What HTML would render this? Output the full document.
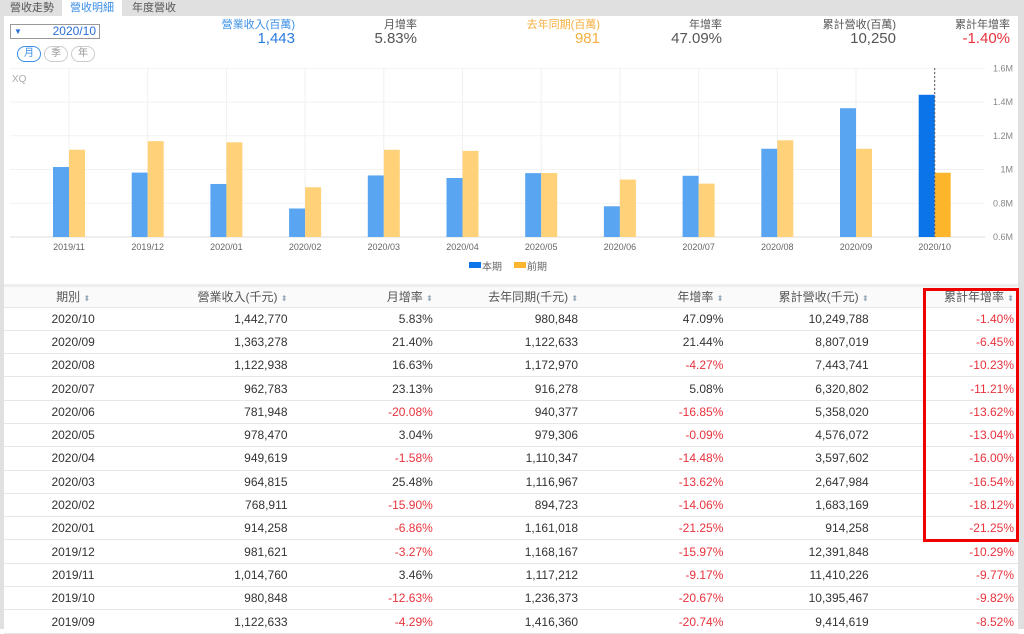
<!DOCTYPE html>
<html><head><meta charset="utf-8"><style>
*{margin:0;padding:0;box-sizing:border-box}
body{width:1024px;height:629px;overflow:hidden;background:#fff;font-family:"Liberation Sans","Noto Sans CJK TC",sans-serif;position:relative;color:#333}
.abs{position:absolute}
.tabbar{left:0;top:0;width:1024px;height:16px;background:#e0e0e0}
.tab{top:0;height:16px;font-size:11px;line-height:16px;color:#555;text-align:center}
.lbl{top:16px;font-size:11px;color:#555;text-align:right}
.val{top:30px;font-size:15px;color:#555;text-align:right}
.pill{top:46px;width:24px;height:16px;border:1px solid #ccc;border-radius:8px;font-size:10px;line-height:14px;text-align:center;color:#999}
table{position:absolute;left:4px;top:287px;width:1014px;border-collapse:collapse;font-size:12px}
td,th{height:23.3px;text-align:right;padding-right:4px;border-bottom:1px solid #e6e6e6;font-weight:normal}
th{color:#555;background:#fafafa;height:20px}
td:first-child,th:first-child{text-align:center}
.r{color:#e8323c}
.ar{color:#9ab;font-size:8px}
</style></head><body>
<div class="abs tabbar"></div>
<div class="abs tab" style="left:4px;width:56px">營收走勢</div>
<div class="abs tab" style="left:62px;width:60px;background:#fff;color:#3a8ee6">營收明細</div>
<div class="abs tab" style="left:124px;width:60px">年度營收</div>
<div class="abs" style="left:0;top:16px;width:4px;height:613px;background:#e0e0e0"></div>
<div class="abs" style="left:1018px;top:16px;width:6px;height:613px;background:#e0e0e0"></div>
<div class="abs" style="left:10px;top:24px;width:90px;height:15px;border:1px solid #999;font-size:12px;line-height:13px;color:#2a6fd6;text-align:right;padding-right:3px"><span style="position:absolute;left:3px;font-size:8px">▼</span>2020/10</div>
<div class="abs pill" style="left:17px;border-color:#3a8ee6;color:#3a8ee6">月</div>
<div class="abs pill" style="left:44px">季</div>
<div class="abs pill" style="left:71px">年</div>
<div class="abs lbl" style="left:200px;width:95px;color:#3a8ee6">營業收入(百萬)</div>
<div class="abs val" style="left:200px;width:95px;color:#2a7be0">1,443</div>
<div class="abs lbl" style="left:340px;width:77px">月增率</div>
<div class="abs val" style="left:340px;width:77px">5.83%</div>
<div class="abs lbl" style="left:500px;width:100px;color:#f5b041">去年同期(百萬)</div>
<div class="abs val" style="left:500px;width:100px;color:#f5b041">981</div>
<div class="abs lbl" style="left:640px;width:82px">年增率</div>
<div class="abs val" style="left:640px;width:82px">47.09%</div>
<div class="abs lbl" style="left:800px;width:96px">累計營收(百萬)</div>
<div class="abs val" style="left:800px;width:96px">10,250</div>
<div class="abs lbl" style="left:930px;width:80px">累計年增率</div>
<div class="abs val" style="left:930px;width:80px;color:#e8323c">-1.40%</div>
<div class="abs" style="left:12px;top:74px;font-size:10px;color:#aaa">XQ</div>
<svg class="abs" style="left:0;top:0" width="1024" height="290" id="chart"></svg>
<div class="abs" style="left:4px;top:284px;width:1014px;height:4px;background:#eee"></div>
<table id="tbl">
<tr><th>期別 <span class="ar">⬍</span></th><th>營業收入(千元) <span class="ar">⬍</span></th><th>月增率 <span class="ar">⬍</span></th><th>去年同期(千元) <span class="ar">⬍</span></th><th>年增率 <span class="ar">⬍</span></th><th>累計營收(千元) <span class="ar">⬍</span></th><th>累計年增率 <span class="ar">⬍</span></th></tr>
</table>
<div class="abs" style="left:923px;top:288px;width:96px;height:254px;border:3px solid #e00"></div>
<script>
const categories=["2019/11","2019/12","2020/01","2020/02","2020/03","2020/04","2020/05","2020/06","2020/07","2020/08","2020/09","2020/10"];
const current=[1014760,981621,914258,768911,964815,949619,978470,781948,962783,1122938,1363278,1442770];
const prior=[1117212,1168167,1161018,894723,1116967,1110347,979306,940377,916278,1172970,1122633,980848];
const yTicks=[0.6,0.8,1,1.2,1.4,1.6];
const yTickLabels=["0.6M","0.8M","1M","1.2M","1.4M","1.6M"];
const NS="http://www.w3.org/2000/svg";
const svg=document.getElementById('chart');
const y=v=>237-(v-0.6)*168.75;
const x=i=>69+i*78.7;
function mk(t,a){const e=document.createElementNS(NS,t);for(const k in a)e.setAttribute(k,a[k]);svg.appendChild(e);return e;}
yTicks.forEach((t,i)=>{
 const l=mk('line',{x1:10,x2:985,y1:y(t),y2:y(t),stroke:i==0?'#ddd':'#f2f2f2'});
 
 
 const tx=mk('text',{x:1013,y:y(t)+3,'text-anchor':'end','font-size':9,fill:'#888'});tx.textContent=yTickLabels[i];
 
 
});
categories.forEach((c,i)=>{
 const g=mk('line',{x1:x(i),x2:x(i),y1:68,y2:237,stroke:'#f0f0f0'});
 
 
 const last=i==categories.length-1;
 const b1=mk('rect',{x:x(i)-16,y:y(current[i]/1e6),width:16,height:237-y(current[i]/1e6),fill:last?'#0a74e8':'#5aa5f2'});
 
 
 const b2=mk('rect',{x:x(i),y:y(prior[i]/1e6),width:16,height:237-y(prior[i]/1e6),fill:last?'#fdb52c':'#ffd27a'});
 
 
 const t=mk('text',{x:x(i),y:250,'text-anchor':'middle','font-size':9,fill:'#666'});t.textContent=c;
 
 
 if(last){const d=mk('line',{x1:x(i),x2:x(i),y1:68,y2:237,stroke:'#556','stroke-dasharray':'2,2'});
 
 }
});
const lg1=mk('rect',{x:469,y:262,width:12,height:6,fill:'#0a74e8'});


const lt1=mk('text',{x:482,y:270,'font-size':10,fill:'#666'});lt1.textContent='本期';


const lg2=mk('rect',{x:514,y:262,width:12,height:6,fill:'#fdb52c'});


const lt2=mk('text',{x:527,y:270,'font-size':10,fill:'#666'});lt2.textContent='前期';



const rows=[
["2020/10","1,442,770","5.83%","980,848","47.09%","10,249,788","-1.40%"],
["2020/09","1,363,278","21.40%","1,122,633","21.44%","8,807,019","-6.45%"],
["2020/08","1,122,938","16.63%","1,172,970","-4.27%","7,443,741","-10.23%"],
["2020/07","962,783","23.13%","916,278","5.08%","6,320,802","-11.21%"],
["2020/06","781,948","-20.08%","940,377","-16.85%","5,358,020","-13.62%"],
["2020/05","978,470","3.04%","979,306","-0.09%","4,576,072","-13.04%"],
["2020/04","949,619","-1.58%","1,110,347","-14.48%","3,597,602","-16.00%"],
["2020/03","964,815","25.48%","1,116,967","-13.62%","2,647,984","-16.54%"],
["2020/02","768,911","-15.90%","894,723","-14.06%","1,683,169","-18.12%"],
["2020/01","914,258","-6.86%","1,161,018","-21.25%","914,258","-21.25%"],
["2019/12","981,621","-3.27%","1,168,167","-15.97%","12,391,848","-10.29%"],
["2019/11","1,014,760","3.46%","1,117,212","-9.17%","11,410,226","-9.77%"],
["2019/10","980,848","-12.63%","1,236,373","-20.67%","10,395,467","-9.82%"],
["2019/09","1,122,633","-4.29%","1,416,360","-20.74%","9,414,619","-8.52%"]];
const tb=document.getElementById('tbl');
const widths=["142px","145px","145px","145px","145px","145px","145px"];
rows.forEach(r=>{
 const tr=document.createElement('tr');
 
 
 r.forEach((v,j)=>{const td=document.createElement('td');td.textContent=v;td.style.width=widths[j];if(v[0]=='-')td.className='r';tr.appendChild(td);});
 tb.appendChild(tr);
});
</script>
</body></html>
